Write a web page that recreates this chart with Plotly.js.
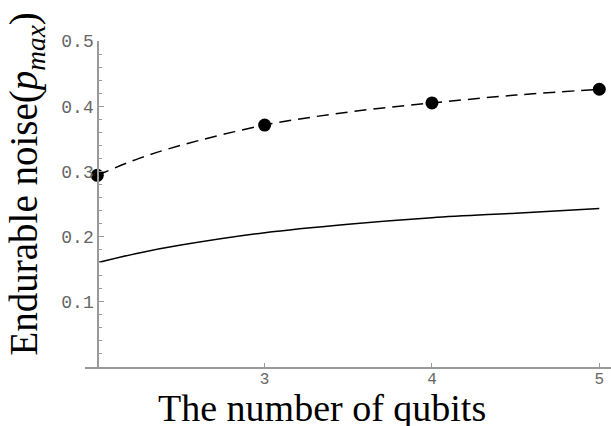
<!DOCTYPE html>
<html>
<head>
<meta charset="utf-8">
<script src="https://cdn.plot.ly/plotly-3.0.1.min.js"></script>
<style>html,body{margin:0;padding:0;background:#fff;}#chart{width:611px;height:426px;}</style>
</head>
<body>
<div id="chart"></div>
<script>
// Data
var qubits = [2, 3, 4, 5];
var pmaxPoints = [0.294, 0.371, 0.405, 0.426];

var curveX = [2, 2.25, 2.5, 3, 3.5, 4, 4.5, 5];
var dashedCurve = [0.294, 0.320, 0.340, 0.371, 0.391, 0.405, 0.417, 0.426];
var solidCurve = [0.160, 0.175, 0.187, 0.206, 0.219, 0.229, 0.236, 0.243];

var xTickVals = [3, 4, 5];
var xTickText = ['3', '4', '5'];
var yTickVals = [0.1, 0.2, 0.3, 0.4, 0.5];
var yTickText = ['0.1', '0.2', '0.3', '0.4', '0.5'];

var xTitle = 'The number of qubits';
var yTitle = 'Endurable noise(<i>p</i><sub><i>max</i></sub>)';

var traces = [
  {x: curveX, y: solidCurve, type: 'scatter', mode: 'lines',
   line: {color: '#000', width: 1.5, shape: 'spline', smoothing: 1}, hoverinfo: 'skip'},
  {x: curveX, y: dashedCurve, type: 'scatter', mode: 'lines',
   line: {color: '#000', width: 1.5, shape: 'spline', smoothing: 1, dash: '12px,7px'}, hoverinfo: 'skip'},
  {x: qubits, y: pmaxPoints, type: 'scatter', mode: 'markers',
   marker: {color: '#000', size: 13}, cliponaxis: false}
];

var axisColor = '#999';
var tickFont = {family: 'Liberation Mono, Courier New, monospace', size: 18, color: '#666'};

var layout = {
  width: 611, height: 426,
  margin: {l: 85, r: 0, t: 41, b: 59},
  paper_bgcolor: '#fff', plot_bgcolor: '#fff',
  showlegend: false,
  xaxis: {
    range: [1.9265, 5.07], showgrid: false, zeroline: false,
    showline: true, linecolor: axisColor, linewidth: 1.5,
    ticks: 'inside', ticklen: 4, tickcolor: axisColor, tickwidth: 1,
    tickvals: xTickVals, ticktext: xTickText,
    tickfont: {family: 'Liberation Mono, Courier New, monospace', size: 16, color: '#666'},
    ticklabelstandoff: -4,
    anchor: 'y'
  },
  yaxis: {
    range: [0, 0.5], showgrid: false, zeroline: false,
    showline: true, linecolor: axisColor, linewidth: 1.5,
    ticks: 'inside', ticklen: 5, tickcolor: axisColor, tickwidth: 1,
    tickvals: yTickVals, ticktext: yTickText, tickfont: tickFont,
    anchor: 'free', position: 0.0234,
    minor: {ticks: 'inside', ticklen: 3, dtick: 0.02, tick0: 0, tickcolor: axisColor, tickwidth: 1, showgrid: false}
  },
  annotations: [
    {text: xTitle, xref: 'paper', yref: 'paper', x: 0.45, y: -0.126,
     xanchor: 'center', yanchor: 'middle', showarrow: false,
     font: {family: 'Liberation Serif, Times New Roman, serif', size: 38, color: '#000'}},
    {text: yTitle, xref: 'paper', yref: 'paper', x: -0.112, y: 0.56,
     xanchor: 'center', yanchor: 'middle', showarrow: false, textangle: -90,
     font: {family: 'Liberation Serif, Times New Roman, serif', size: 39, color: '#000'}}
  ]
};

Plotly.newPlot('chart', traces, layout, {displayModeBar: false, staticPlot: true});
</script>
</body>
</html>
